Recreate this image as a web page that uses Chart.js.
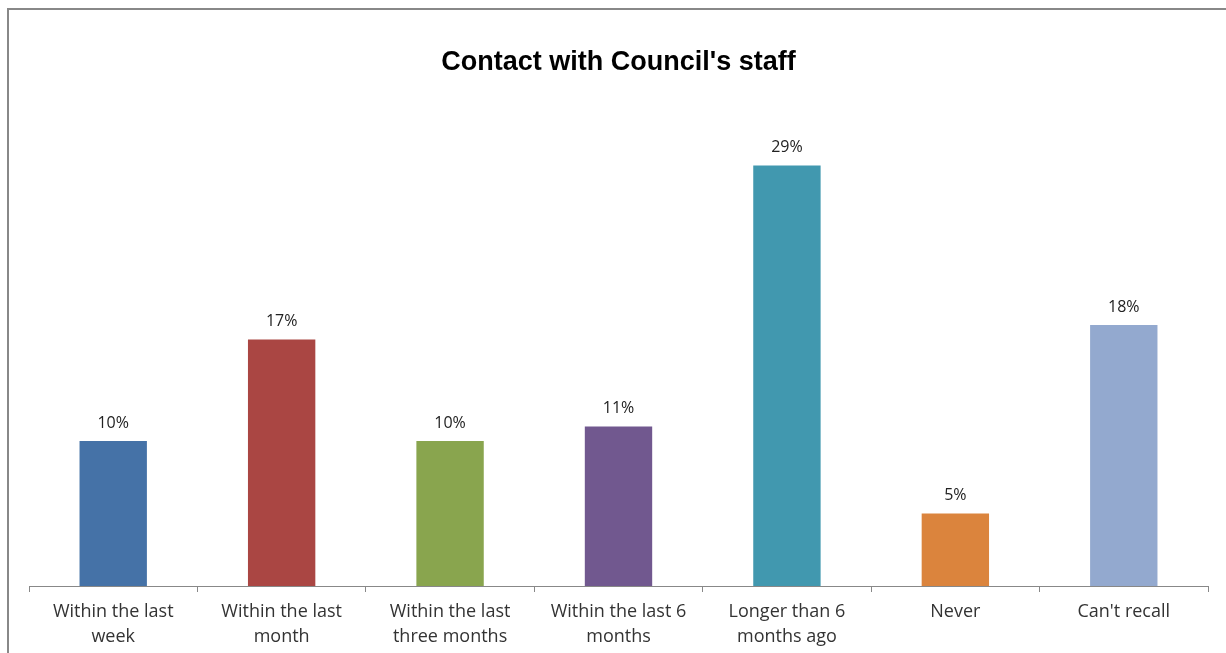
<!DOCTYPE html>
<html>
<head>
<meta charset="utf-8">
<script src="https://cdn.jsdelivr.net/npm/chart.js@4.4.1/dist/chart.umd.min.js"></script>
<style>
  body { margin: 0; background: #fff; }
  canvas { display: block; }
</style>
</head>
<body>
<canvas id="contact" width="1226" height="653"></canvas>
<script>
// categories (split in two lines like the original)
const categories = [
  ['Within the last', 'week'],
  ['Within the last', 'month'],
  ['Within the last', 'three months'],
  ['Within the last 6', 'months'],
  ['Longer than 6', 'months ago'],
  ['Never'],
  ["Can't recall"]
];
const percentages = [10, 17, 10, 11, 29, 5, 18];
const barColors = ['#4572A7', '#AA4643', '#89A54E', '#71588F', '#4198AF', '#DB843D', '#93A9CF'];

// frame around chart (only top + left visible in the picture)
const framePlugin = {
  id: 'frame',
  beforeDraw(chart) {
    const ctx = chart.ctx;
    ctx.save();
    ctx.strokeStyle = '#888888';
    ctx.lineWidth = 2;
    ctx.beginPath();
    ctx.moveTo(8, 653);
    ctx.lineTo(8, 9);
    ctx.lineTo(1226, 9);
    ctx.stroke();
    ctx.restore();
  }
};

// value labels on top of bars
const valueLabels = {
  id: 'valueLabels',
  afterDatasetsDraw(chart) {
    const ctx = chart.ctx;
    const meta = chart.getDatasetMeta(0);
    ctx.save();
    ctx.font = '16px "Open Sans"';
    ctx.fillStyle = '#222';
    ctx.textAlign = 'center';
    ctx.textBaseline = 'middle';
    meta.data.forEach((bar, i) => {
      ctx.fillText(percentages[i] + '%', bar.x, bar.y - 18);
    });
    ctx.restore();
  }
};

new Chart(document.getElementById('contact'), {
  type: 'bar',
  data: {
    labels: categories,
    datasets: [{
      data: percentages,
      backgroundColor: barColors,
      barPercentage: 0.4,
      categoryPercentage: 1
    }]
  },
  options: {
    responsive: false,
    animation: false,
    layout: { padding: { left: 29, right: 18, top: 0, bottom: 0 } },
    plugins: {
      legend: { display: false },
      tooltip: { enabled: false },
      title: {
        display: true,
        text: "Contact with Council's staff",
        color: '#000',
        font: { family: '"Liberation Sans", Arial', size: 27, weight: 'bold' },
        padding: { top: 46, bottom: 72.6 }
      }
    },
    scales: {
      x: {
        grid: { drawOnChartArea: false, drawTicks: true, tickLength: 6, color: '#888' },
        border: { color: '#888', width: 1 },
        ticks: {
          color: '#333',
          font: { family: '"Open Sans"', size: 18, lineHeight: 25 / 18 },
          padding: 7,
          maxRotation: 0,
          autoSkip: false
        },
        afterFit(scale) { scale.height = 67; }
      },
      y: {
        display: false,
        min: 0,
        max: 30
      }
    }
  },
  plugins: [framePlugin, valueLabels]
});
</script>
</body>
</html>
